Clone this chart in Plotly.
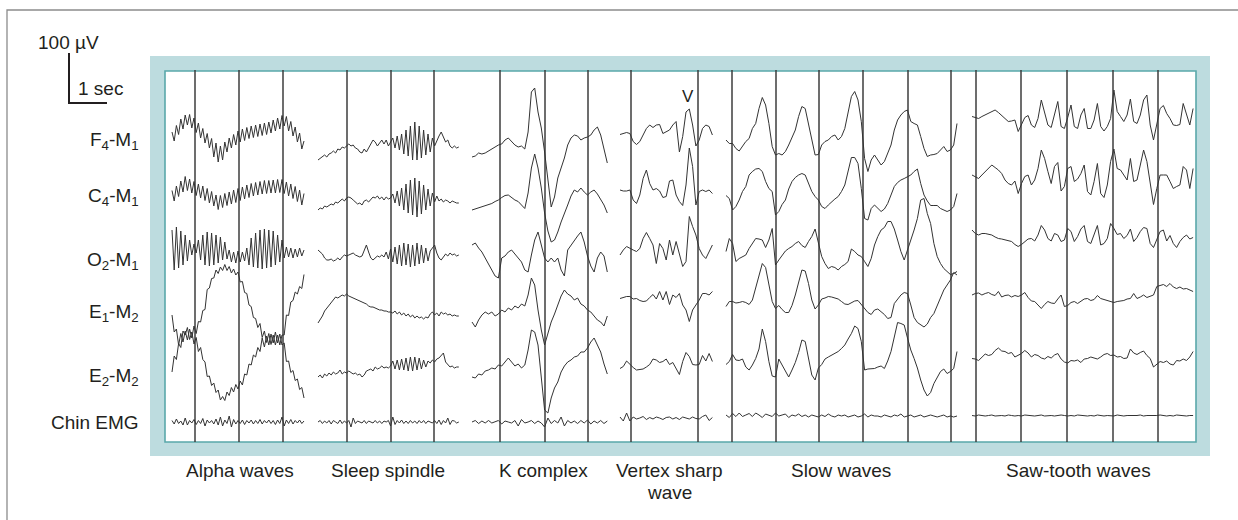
import plotly.graph_objects as go

W, H = 1238, 520
PX_PER_SEC = 44.0      # horizontal scale of the recording (1 s between grid lines)
UV_PER_PX = 2.0        # vertical scale (100 uV spans 50 px)

INK = "#333333"
TEXT = "#231f20"
TEAL_FILL = "#bddcdf"
TEAL_EDGE = "#5aa8aa"
GRID = "#3c3c3c"
FONT = "Liberation Sans, Arial, Helvetica, sans-serif"

CHANNELS = ["F<sub>4</sub>-M<sub>1</sub>", "C<sub>4</sub>-M<sub>1</sub>", "O<sub>2</sub>-M<sub>1</sub>",
            "E<sub>1</sub>-M<sub>2</sub>", "E<sub>2</sub>-M<sub>2</sub>", "Chin EMG"]
CHANNEL_BASE_PX = [142, 198, 255, 312, 372, 422]
CHANNEL_LABEL_Y = [141, 197, 261, 313, 377, 422]

# ---------------- data: deflection in uV per sample ----------------
# Alpha waves (dt = 0.05 s)
ALPHA_F4 = [20, 2, 33, 15, 46, 26, 54, 34, 55, 28, 48, 19, 38, 8, 27, -2, 17, -12, 7, -30, -2, -40, -8, -36, 0, -20,
            8, -12, 15, -6, 22, 0, 26, 3, 29, 7, 32, 9, 34, 11, 36, 13, 38, 15, 40, 18, 44, 22, 48, 26, 53, 32, 51, 22,
            41, 12, 30, 0, 18, -14, 2]
ALPHA_C4 = [15, -6, 24, 3, 34, 12, 43, 15, 38, 10, 33, 5, 28, 0, 24, -5, 19, -10, 13, -16, 6, -23, 5, -19, 9, -15, 12,
            -12, 16, -9, 19, -5, 22, -2, 26, 1, 29, 4, 31, 6, 33, 8, 35, 9, 35, 10, 36, 10, 37, 11, 37, 9, 32, 4, 28, -1,
            23, -7, 16, -14, 9]
ALPHA_O2 = [50, -30, 56, -26, 48, -20, 40, -12, 30, 0, 22, 4, 30, -10, 40, -20, 46, -22, 44, -20, 40, -16, 36, -10, 26,
            -8, 10, -14, 6, -16, 8, -14, 6, -12, 14, -20, 34, -24, 44, -26, 50, -28, 52, -26, 50, -24, 48, -20, 40, -14,
            30, -6, 16, -4, 14, -6, 12, -4, 14, -2, 10]
ALPHA_E1 = [-6, -40, -34, -66, -43, -60, -38, -56, -34, -52, -28, -43, -19, -20, 3, 5, 45, 48, 67, 68, 84, 77, 90, 83,
            95, 83, 91, 78, 86, 74, 80, 60, 61, 39, 37, 14, 11, -11, -13, -31, -23, -51, -38, -61, -43, -65, -46, -66,
            -46, -66, -46, -46, -6, -7, 20, 23, 40, 36, 51, 47, 75]
ALPHA_E2 = [0, 32, 25, 57, 49, 82, 74, 89, 65, 80, 56, 69, 41, 49, 25, 20, -9, -8, -27, -22, -41, -36, -56, -49, -57,
            -40, -47, -31, -40, -25, -34, -18, -26, -4, -6, 16, 14, 34, 30, 49, 41, 68, 50, 72, 54, 76, 58, 80, 58, 76,
            54, 58, 21, 22, -1, 3, -17, -14, -35, -31, -52]
ALPHA_EMG = [3, -4, 6, -3, 2, -6, 8, -6, 3, -2, 5, -5, 3, -3, 7, -8, 4, -2, 3, -4, 6, -6, 10, -8, 4, -3, 12, -10, 5, -4,
             3, -3, 4, -5, 3, -2, 4, -4, 3, -3, 5, -4, 3, -2, 4, -3, 3, -5, 4, -3, 10, -8, 4, -3, 5, -4, 3, -2, 4, -3, 2]

# Sleep spindle (dt = 0.05 s)
SPINDLE_F4 = [-36, -32, -30, -26, -30, -24, -22, -18, -22, -14, -16, -10, -12, -8, -4, -8, -6, -12, -14, -20, -22, -14,
              -20, -12, -4, 4, 0, -8, -2, 4, -4, 4, -8, 0, 8, -12, 12, -16, 16, -24, 24, -28, 32, -36, 40, -36, 32, -32,
              24, -26, 16, -20, 8, -8, 4, 12, 20, 8, 0, 4, -8, -12, -8, -12, -10]
SPINDLE_C4 = [-24, -20, -22, -16, -18, -14, -12, -14, -8, -10, -6, -2, -6, 0, 2, 0, -4, -8, -12, -10, -14, -6, -4, -8,
              -2, 2, 0, 4, -2, 2, -4, 2, -2, 0, 8, -10, 14, -16, 20, -24, 28, -30, 36, -34, 40, -38, 34, -32, 26, -24,
              18, -16, 10, -8, 4, -6, -2, -8, -4, -6, -10, -6, -8, -10, -10]
SPINDLE_O2 = [10, 6, 2, -6, -10, -10, -8, -12, -10, -6, -10, -4, 0, -2, 0, 2, 4, 0, -2, -4, -2, 10, 20, 6, -6, -10, -6,
              -2, -4, 0, -4, 6, -8, 12, -14, 16, -18, 20, -22, 24, -20, 22, -24, 20, -22, 24, -18, 20, -16, 14, -12, 8,
              14, 20, 4, -6, -10, -4, 2, -2, 4, 0, 2, -2, 0]
SPINDLE_E1 = [-22, -16, -8, 2, 8, 12, 18, 26, 30, 28, 32, 34, 32, 36, 32, 30, 28, 26, 24, 22, 20, 18, 16, 12, 10, 10, 8,
              6, 4, 4, 2, 2, 0, 0, -2, 2, -4, 0, -6, -2, -8, -4, -10, -6, -12, -8, -12, -10, -14, -10, -12, -4, 0, -6,
              -2, -8, 0, -4, -2, -6, -4, -8, -6, -8, -8]
SPINDLE_E2 = [-10, -6, -12, -4, -8, -2, -6, 0, -4, -2, 4, -4, 0, -2, 2, -2, -4, -2, -6, -4, -10, -6, 2, 4, 6, 2, 10, 6,
              8, 12, 8, 10, 8, 12, 22, 6, 24, 4, 26, 4, 28, 2, 30, 2, 30, 4, 28, 6, 24, 10, 22, 18, 24, 20, 26, 28, 34,
              38, 20, 14, 10, 12, 8, 10, 10]
SPINDLE_EMG = [0, 3, -3, 2, -2, 3, -4, 3, 0, -3, 4, -3, 2, -2, 3, -10, 8, -3, 2, 0, -2, 3, -3, 2, 0, -2, 3, -2, 2, -3, 2,
               0, 3, -8, 10, -5, 3, -2, 4, -3, 2, -3, 3, -2, 2, -3, 3, -2, 3, -3, 2, 0, -2, 3, -3, 4, -5, 3, -2, 8, -5,
               3, 2, -2, 0]

# K complex (dt = 0.075 s)
K_F4 = [-30, -28, -22, -24, -22, -18, -14, -10, -6, -4, 4, 8, 0, -6, -10, -8, -14, 20, 100, 108, 60, 28, -20, -76, -130,
        -110, -72, -52, -32, -6, 8, 14, 12, 4, 8, 10, 14, 24, 30, 14, -12, -42]
K_C4 = [-24, -22, -19, -17, -15, -13, -11, -7, -4, 1, 5, 6, 1, -4, -7, -14, -21, 10, 60, 88, 60, 20, -30, -66, -88, -84,
        -68, -48, -32, -14, 4, 16, 12, 20, 12, 6, 12, 16, 8, -4, -14, -30]
K_O2 = [20, 24, 14, 6, -6, -18, -30, -42, -46, -6, -2, 6, 10, 2, -6, -14, -30, -34, 0, 30, 46, 20, -6, -14, -6, -14, -6,
        -30, -42, 10, 20, 30, 38, 46, 26, -2, -22, -34, -6, 6, -2, -34]
K_E1 = [-20, -30, -16, -6, 0, -4, 0, -8, -4, 4, 0, 8, 4, 12, 8, 16, 12, 34, 68, 54, 4, -36, -66, -40, -20, -4, 14, 32,
        44, 36, 32, 24, 28, 16, 12, 4, 0, -8, -16, -20, -28, -8]
K_E2 = [-10, -12, -4, -6, 2, 4, 8, 6, 14, 12, 20, 28, 20, 12, 16, 8, 14, 44, 84, 80, 54, -6, -76, -82, -52, -32, -20, 0,
        12, 20, 24, 30, 32, 40, 40, 48, 60, 68, 54, 40, 16, -4]
K_EMG = [0, 3, -3, 2, -2, 3, -2, 0, 3, -4, 2, 0, -2, 3, -8, 5, -2, 0, 3, -3, 2, -2, -10, 8, -3, 3, -2, 10, -8, 3, -2, 2,
         -3, 3, -2, 4, -4, 2, -2, 3, -3, 2]

# Vertex sharp wave (dt = 0.075 s)
V_F4 = [15, 17, 19, 17, 1, -5, 1, 14, 27, 34, 29, 34, 35, 17, 21, 24, 34, 41, -20, 11, 60, 66, 34, -8, 4, 27, 34, 31, 14]
V_C4 = [16, 14, 14, 16, -4, -11, 6, 39, 56, 29, 16, 19, 14, 1, 3, 34, 36, 6, -7, -15, 26, 100, 63, -14, 13, 16, 13, 16, 9]
V_O2 = [0, 10, 17, 13, 10, 7, 13, 33, 45, 33, 20, -17, 23, 13, -10, 30, 0, 27, 0, -23, -13, 77, 57, 40, 13, 0, -7, 7, 20]
V_E1 = [27, 29, 31, 31, 26, 27, 23, 21, 22, 29, 35, 26, 41, 24, 41, 15, 34, 29, 37, 14, 4, -19, 4, 14, 24, 37, 37, 34, 41]
V_E2 = [7, 11, 22, 15, 9, 4, 5, 6, 10, 15, 26, 24, 19, 21, 26, 15, 19, 7, -5, 21, 39, 31, 15, 14, 15, 33, 22, 37, 21]
V_EMG = [10, 2, 18, 2, 10, 6, 8, 11, 5, 9, 6, 10, 8, 5, 9, 10, 6, 9, 5, 10, 8, 6, 10, 7, 6, 11, 14, 3, 9]

# Slow waves (dt = 0.075 s)
S_F4 = [4, -3, -3, -13, -18, -9, 1, 7, 27, 37, 67, 89, 74, 37, -9, -26, -23, -26, -19, -6, 11, 24, 51, 71, 67, 37, 7,
        -26, -25, -6, 1, 4, 11, 14, 4, 11, 27, 57, 91, 101, 84, 41, -33, -59, -36, -26, -36, -46, -39, -23, -6, 24, 44,
        54, 61, 64, 41, 37, 34, 11, -13, -29, -26, -25, -23, -16, -9, -19, -16, -6, 37]
S_C4 = [5, -1, -24, -17, -4, 13, 23, 46, 53, 58, 59, 53, 33, 19, 13, -34, -27, -13, -4, 18, 33, 41, 46, 49, 46, 29, 13,
        3, -4, -17, -21, -14, -7, -2, 3, 13, 26, 51, 81, 81, 69, 19, -41, -44, -21, -14, -21, -27, -22, -11, 6, 23, 31,
        36, 39, 43, 46, 53, 58, 29, 6, -6, -15, -15, -15, -21, -24, -27, -24, -17, 9]
S_O2 = [7, 33, 23, -13, -7, -3, 0, 13, 23, 33, 32, 30, 15, 30, 53, -20, -10, 0, 8, 13, 17, 23, 27, 19, 15, 27, 37, 52,
        27, -3, -17, -27, -23, -25, -30, -23, -19, -13, 12, 7, 0, -3, -13, -23, -7, 20, 37, 50, 55, 67, 67, 52, 30, 7,
        -10, 10, 27, 50, 73, 110, 113, 83, 63, 23, -3, -17, -27, -33, -39, -37, -33]
S_E1 = [11, 21, 21, 18, 19, 21, 19, 15, 24, 47, 74, 97, 89, 51, 21, 7, 13, 5, -1, -1, 13, 34, 57, 84, 82, 57, 24, 6, 14,
        26, 28, 31, 30, 28, 26, 21, 16, 15, 19, 22, 23, 15, 7, -1, -5, 4, 6, 1, -5, -13, -11, 17, 26, 34, 39, 37, 14,
        -11, -21, -26, -30, -24, -11, -3, 13, 31, 44, 54, 64, 79, 74]
S_E2 = [15, 21, 35, 24, 23, 26, 10, 4, 14, 27, 46, 86, 61, 21, -8, -10, 26, 14, 1, -10, 4, 19, 39, 64, 61, 30, -6, -16,
        8, 15, 26, 30, 34, 37, 41, 47, 54, 66, 77, 92, 87, 61, 4, 6, 7, 7, 10, 12, 7, 22, 41, 71, 99, 97, 94, 68, 44,
        27, 8, -16, -36, -48, -41, -23, -10, 1, 6, -3, 1, 7, 41]
S_EMG = [14, 9, 17, 11, 18, 11, 14, 17, 11, 18, 14, 9, 16, 14, 11, 18, 12, 14, 16, 9, 14, 12, 16, 11, 14, 10, 14, 12,
         10, 14, 11, 16, 12, 10, 14, 12, 14, 10, 12, 14, 10, 12, 16, 10, 14, 12, 12, 10, 14, 12, 10, 14, 12, 16, 10, 12,
         14, 10, 12, 14, 10, 12, 14, 12, 10, 12, 14, 10, 12, 10, 12]

# Saw-tooth waves (dt = 0.075 s)
W_F4 = [51, 49, 47, 51, 54, 57, 61, 64, 59, 53, 46, 41, 42, 44, 21, 34, 49, 53, 34, 29, 47, 84, 61, 34, 29, 57, 81, 31,
        27, 49, 74, 31, 27, 54, 67, 27, 27, 44, 77, 31, 22, 31, 47, 104, 61, 51, 41, 54, 86, 41, 37, 54, 84, 94, 34, 4,
        34, 67, 73, 57, 47, 34, 33, 35, 77, 54, 34, 67]
W_C4 = [46, 43, 39, 46, 53, 59, 66, 61, 56, 49, 36, 29, 26, 34, 9, 29, 43, 46, 26, 36, 59, 96, 79, 53, 29, 63, 71, 14,
        23, 59, 63, 33, 38, 49, 66, 13, 6, 33, 69, 9, 1, 26, 73, 98, 59, 56, 46, 36, 79, 33, 36, 66, 96, 73, 26, -13, 19,
        46, 46, 46, 33, 19, 23, 26, 63, 56, 19, 59]
W_O2 = [50, 43, 40, 43, 43, 41, 40, 36, 33, 32, 30, 28, 27, 21, 17, 21, 27, 32, 33, 28, 40, 59, 50, 33, 28, 43, 40, 27,
        30, 53, 47, 27, 37, 52, 59, 27, 23, 43, 59, 20, 23, 33, 63, 53, 41, 43, 33, 39, 52, 27, 35, 47, 55, 53, 23, 15,
        33, 47, 50, 28, 39, 23, 15, 27, 35, 40, 32, 35]
W_E1 = [34, 37, 38, 34, 37, 39, 35, 33, 41, 30, 33, 34, 30, 33, 31, 34, 39, 29, 22, 21, 14, 7, 15, 21, 18, 17, 26, 34,
        11, 13, 19, 21, 17, 21, 26, 27, 23, 25, 33, 27, 25, 23, 21, 19, 21, 22, 23, 26, 27, 37, 27, 30, 34, 29, 31, 34,
        51, 53, 55, 51, 57, 50, 47, 50, 46, 47, 44, 41]
W_E2 = [27, 26, 23, 30, 36, 33, 35, 43, 48, 42, 41, 37, 39, 30, 33, 37, 43, 38, 30, 35, 33, 28, 26, 31, 28, 34, 37, 26,
        20, 18, 23, 22, 24, 19, 26, 27, 30, 28, 26, 30, 35, 37, 33, 34, 30, 31, 27, 28, 46, 38, 35, 39, 42, 33, 27, 10,
        16, 21, 19, 22, 16, 14, 23, 22, 26, 23, 30, 41]
W_EMG = [13, 12, 14, 13, 12, 13, 14, 12, 13, 13, 12, 14, 13, 12, 13, 12, 14, 13, 13, 12, 13, 14, 12, 13, 13, 12, 13, 14,
         13, 12, 13, 12, 14, 13, 13, 12, 13, 12, 14, 13, 12, 13, 13, 12, 14, 13, 12, 13, 13, 12, 13, 14, 12, 13, 13, 12,
         13, 14, 13, 12, 13, 12, 14, 13, 13, 12, 13, 13]

PANEL_NAMES = [["Alpha waves"], ["Sleep spindle"], ["K complex"], ["Vertex sharp", "wave"], ["Slow waves"],
               ["Saw-tooth waves"]]

# ---------------- layout (pixels) ----------------
PANELS = [
    dict(start_px=172, dt=0.05, grid_px=[195, 239, 283], label_x=240,
         traces=[ALPHA_F4, ALPHA_C4, ALPHA_O2, ALPHA_E1, ALPHA_E2, ALPHA_EMG]),
    dict(start_px=318, dt=0.05, grid_px=[347, 391, 434], label_x=388,
         traces=[SPINDLE_F4, SPINDLE_C4, SPINDLE_O2, SPINDLE_E1, SPINDLE_E2, SPINDLE_EMG]),
    dict(start_px=472, dt=0.075, grid_px=[500, 545, 588], label_x=543,
         traces=[K_F4, K_C4, K_O2, K_E1, K_E2, K_EMG]),
    dict(start_px=620, dt=0.075, grid_px=[631, 698], label_x=669,
         traces=[V_F4, V_C4, V_O2, V_E1, V_E2, V_EMG]),
    dict(start_px=726, dt=0.075, grid_px=[732, 776, 819, 863, 908, 951], label_x=841,
         traces=[S_F4, S_C4, S_O2, S_E1, S_E2, S_EMG]),
    dict(start_px=972, dt=0.075, grid_px=[976, 1021, 1067, 1113, 1158], label_x=1078,
         traces=[W_F4, W_C4, W_O2, W_E1, W_E2, W_EMG]),
]


def px(x):
    return x / W


def py(y):
    return 1 - y / H


fig = go.Figure()

for p in PANELS:
    t0 = p["start_px"] / PX_PER_SEC
    for ch, vals in enumerate(p["traces"]):
        base_uv = -CHANNEL_BASE_PX[ch] * UV_PER_PX
        fig.add_trace(go.Scatter(
            x=[t0 + i * p["dt"] for i in range(len(vals))],
            y=[base_uv + v for v in vals],
            mode="lines", line=dict(color=INK, width=1),
            hoverinfo="skip", showlegend=False))

shapes = [
    # outer thin border
    dict(type="rect", xref="paper", yref="paper", x0=px(7), x1=px(1260), y0=py(560), y1=py(10),
         line=dict(color="#8c8c8c", width=1.3), fillcolor="rgba(0,0,0,0)", layer="below"),
    # teal frame
    dict(type="rect", xref="paper", yref="paper", x0=px(150), x1=px(1210), y0=py(456), y1=py(56),
         line=dict(width=0), fillcolor=TEAL_FILL, layer="below"),
    # inner white panel
    dict(type="rect", xref="paper", yref="paper", x0=px(165), x1=px(1196), y0=py(442), y1=py(71),
         line=dict(color=TEAL_EDGE, width=1.6), fillcolor="white", layer="below"),
]
for p in PANELS:
    for g in p["grid_px"]:
        shapes.append(dict(type="line", xref="paper", yref="paper", x0=px(g), x1=px(g), y0=py(442), y1=py(70),
                           line=dict(color=GRID, width=1.5), layer="below"))

# scale bar: 100 uV vertical (data units), short horizontal foot
bar_bottom_uv = -103 * UV_PER_PX
shapes.append(dict(type="line", xref="paper", yref="y", x0=px(69), x1=px(69), y0=bar_bottom_uv,
                   y1=bar_bottom_uv + 100, line=dict(color=TEXT, width=2)))
shapes.append(dict(type="line", xref="paper", yref="y", x0=px(68), x1=px(107), y0=bar_bottom_uv,
                   y1=bar_bottom_uv, line=dict(color=TEXT, width=2)))

annotations = []
for name, yl in zip(CHANNELS, CHANNEL_LABEL_Y):
    annotations.append(dict(text=name, xref="paper", yref="paper", x=px(141), y=py(yl), xanchor="right",
                            yanchor="middle", showarrow=False, font=dict(size=19, color=TEXT, family=FONT)))
for p, lines in zip(PANELS, PANEL_NAMES):
    for k, line in enumerate(lines):
        annotations.append(dict(text=line, xref="paper", yref="paper", x=px(p["label_x"]), y=py(470 + 22 * k),
                                xanchor="center", yanchor="middle", showarrow=False,
                                font=dict(size=19, color=TEXT, family=FONT)))
annotations.append(dict(text="100 \u00b5V", xref="paper", yref="paper", x=px(36), y=py(42), xanchor="left",
                        yanchor="middle", showarrow=False, font=dict(size=19, color=TEXT, family=FONT)))
annotations.append(dict(text="1 sec", xref="paper", yref="paper", x=px(76), y=py(88), xanchor="left",
                        yanchor="middle", showarrow=False, font=dict(size=19, color=TEXT, family=FONT)))
annotations.append(dict(text="V", xref="paper", yref="paper", x=px(688), y=py(96), xanchor="center",
                        yanchor="middle", showarrow=False, font=dict(size=17, color=TEXT, family=FONT)))

fig.update_layout(
    width=W, height=H, autosize=False,
    margin=dict(l=0, r=0, t=0, b=0, pad=0),
    paper_bgcolor="white", plot_bgcolor="rgba(0,0,0,0)",
    xaxis=dict(range=[0, W / PX_PER_SEC], visible=False, fixedrange=True),
    yaxis=dict(range=[-H * UV_PER_PX, 0], visible=False, fixedrange=True),
    shapes=shapes, annotations=annotations, hovermode=False, showlegend=False,
)

fig.write_html("out.html", config={"displayModeBar": False})
